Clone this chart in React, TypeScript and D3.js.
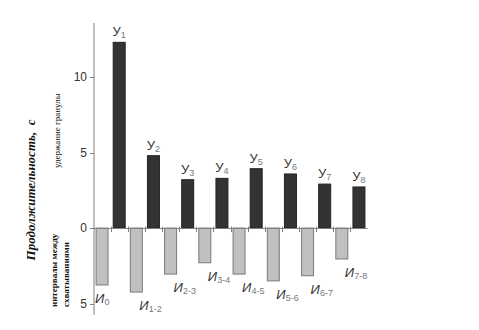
import React from "react";
import * as d3 from "d3";

const upperIdx = ["1", "2", "3", "4", "5", "6", "7", "8"];
const upperValues = [12.3, 4.79, 3.2, 3.29, 3.93, 3.58, 2.91, 2.72];
const lowerIdx = ["0", "1-2", "2-3", "3-4", "4-5", "5-6", "6-7", "7-8"];
const lowerValues = [3.77, 4.24, 3.05, 2.3, 3.05, 3.5, 3.16, 2.05];
const yTicks = [-5, 0, 5, 10];
const yTitle = "Продолжительность,  с";
const upperNote = "удержание гранулы";
const lowerNote1 = "интервалы между";
const lowerNote2 = "схватываниями";

const W = 479;
const H = 330;

export default function App() {
  const categories: string[] = [];
  lowerIdx.forEach((l, i) => {
    categories.push("L" + l);
    categories.push("U" + upperIdx[i]);
  });
  const x = d3.scaleBand<string>().domain(categories).range([93.5, 367.5]).paddingInner(0.3).paddingOuter(0.15);
  const y = d3.scaleLinear().domain([-5.76, 13.58]).range([315, 23]);
  const y0 = y(0);
  const axisX = 94;
  const axisColor = "#808080";
  const bw = x.bandwidth();
  const step = x.step();
  const x0 = x.range()[0];
  const boundaries = d3.range(1, categories.length).map((i) => x0 + step * i);

  return (
    <div style={{ position: "fixed", left: 0, top: 0 }}>
      <svg width={W} height={H} style={{ display: "block", background: "#fff" }}>
        {/* y axis */}
        <line x1={axisX} x2={axisX} y1={y.range()[1]} y2={y.range()[0]} stroke={axisColor} strokeWidth={1} />
        {yTicks.map((t) => (
          <g key={t}>
            <line x1={axisX - 4} x2={axisX} y1={Math.round(y(t)) + 0.5} y2={Math.round(y(t)) + 0.5} stroke={axisColor} />
            <text x={axisX - 7} y={y(t) + 4} textAnchor="end" fontFamily="Liberation Sans, Arial, sans-serif" fontSize={12} fill="#333">
              {Math.abs(t)}
            </text>
          </g>
        ))}
        {/* bars */}
        {lowerValues.map((v, i) => {
          const bx = x("L" + lowerIdx[i])!;
          return (
            <rect key={"l" + i} x={bx} y={y0} width={bw} height={y(-v) - y0} fill="#c0c0c0" stroke="#7a7a7a" strokeWidth={1} />
          );
        })}
        {upperValues.map((v, i) => {
          const bx = x("U" + upperIdx[i])!;
          return (
            <rect key={"u" + i} x={bx} y={y(v)} width={bw} height={y0 - y(v)} fill="#333333" stroke="#222" strokeWidth={1} />
          );
        })}
        {/* zero axis */}
        <line x1={axisX} x2={x.range()[1]} y1={Math.round(y0) + 0.5} y2={Math.round(y0) + 0.5} stroke={axisColor} />
        {boundaries.map((b, i) => (
          <line key={"b" + i} x1={Math.round(b) + 0.5} x2={Math.round(b) + 0.5} y1={y0 - 1.5} y2={y0 + 4} stroke={axisColor} />
        ))}
        {/* upper labels */}
        {upperValues.map((v, i) => {
          const bx = x("U" + upperIdx[i])! + bw / 2;
          return (
            <text key={"ut" + i} x={bx} y={y(v) - 6} textAnchor="middle" fontFamily="Liberation Sans, Arial, sans-serif" fill="#333">
              <tspan fontSize={13}>У</tspan>
              <tspan fontSize={9} dy={2} fill="#777">{upperIdx[i]}</tspan>
            </text>
          );
        })}
        {/* lower labels */}
        {lowerValues.map((v, i) => {
          const bl = x("L" + lowerIdx[i])!;
          const lx = i === 0 ? bl - 1 : bl + bw / 2 + 3;
          return (
            <text key={"lt" + i} x={lx} y={y(-v) + 18} textAnchor="start" fontFamily="Liberation Sans, Arial, sans-serif" fill="#333">
              <tspan fontSize={13} fontStyle="italic">И</tspan>
              <tspan fontSize={9} dy={2} fill="#777">{lowerIdx[i]}</tspan>
            </text>
          );
        })}
        {/* titles */}
        <text
          transform="translate(35,190) rotate(-90)"
          textAnchor="middle"
          fontFamily="Liberation Serif, Times New Roman, serif"
          fontStyle="italic"
          fontWeight="bold"
          fontSize={13}
          fill="#111"
          style={{ whiteSpace: "pre" }}
        >
          {yTitle}
        </text>
        <text transform="translate(60,168) rotate(-90)" textAnchor="start" fontFamily="Liberation Serif, Times New Roman, serif" fontSize={9} fill="#111">
          {upperNote}
        </text>
        <text transform="translate(57,307) rotate(-90)" textAnchor="start" fontFamily="Liberation Serif, Times New Roman, serif" fontWeight="bold" fontSize={9} fill="#111">
          {lowerNote1}
        </text>
        <text transform="translate(69,307) rotate(-90)" textAnchor="start" fontFamily="Liberation Serif, Times New Roman, serif" fontWeight="bold" fontSize={9} fill="#111">
          {lowerNote2}
        </text>
      </svg>
    </div>
  );
}
